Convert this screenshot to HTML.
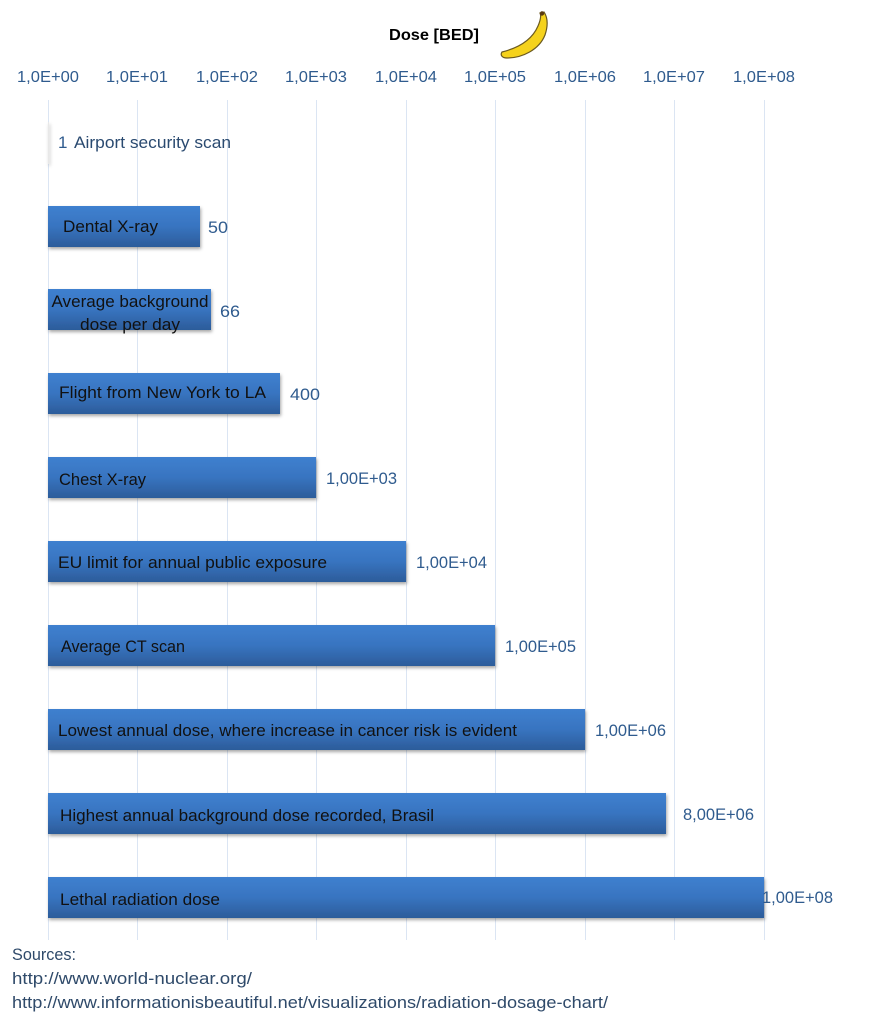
<!DOCTYPE html>
<html><head><meta charset="utf-8"><style>
html,body{margin:0;padding:0;background:#fff}
svg{display:block}
text{font-family:"Liberation Sans",sans-serif}
</style></head><body>
<svg width="886" height="1024" viewBox="0 0 886 1024" xmlns="http://www.w3.org/2000/svg">
<defs>
<linearGradient id="g" x1="0" y1="0" x2="0" y2="1">
<stop offset="0" stop-color="#3f80cf"/>
<stop offset="0.5" stop-color="#3874c0"/>
<stop offset="1" stop-color="#2c5c9a"/>
</linearGradient>
<filter id="s" x="-5%" y="-20%" width="110%" height="150%"><feDropShadow dx="1" dy="2" stdDeviation="1.5" flood-color="#000" flood-opacity="0.35"/></filter>
</defs>
<text x="434" y="40" text-anchor="middle" font-size="16" font-weight="bold" fill="#000" textLength="90" lengthAdjust="spacingAndGlyphs">Dose [BED]</text>
<g transform="translate(500,12)">
<path d="M2,40 C18,36 32,28 38,14 C41,7 41,3 40,1 L44,0 C48,6 48,14 45,23 C39,38 22,46 7,46 C2,46 0,43 2,40 Z" fill="#f5d21c" stroke="#6b5a20" stroke-width="1.2"/>
<circle cx="42" cy="1.5" r="2.2" fill="#5a3a10"/>
</g>
<g fill="#2f5b8e" font-size="16" text-anchor="middle" lengthAdjust="spacingAndGlyphs">
<text x="48" y="82" textLength="62" lengthAdjust="spacingAndGlyphs">1,0E+00</text>
<text x="137" y="82" textLength="62" lengthAdjust="spacingAndGlyphs">1,0E+01</text>
<text x="227" y="82" textLength="62" lengthAdjust="spacingAndGlyphs">1,0E+02</text>
<text x="316" y="82" textLength="62" lengthAdjust="spacingAndGlyphs">1,0E+03</text>
<text x="406" y="82" textLength="62" lengthAdjust="spacingAndGlyphs">1,0E+04</text>
<text x="495" y="82" textLength="62" lengthAdjust="spacingAndGlyphs">1,0E+05</text>
<text x="585" y="82" textLength="62" lengthAdjust="spacingAndGlyphs">1,0E+06</text>
<text x="674" y="82" textLength="62" lengthAdjust="spacingAndGlyphs">1,0E+07</text>
<text x="764" y="82" textLength="62" lengthAdjust="spacingAndGlyphs">1,0E+08</text>
</g>
<g stroke="#dbe5f3" stroke-width="1">
<line x1="48.5" y1="100" x2="48.5" y2="940"/>
<line x1="137.5" y1="100" x2="137.5" y2="940"/>
<line x1="227.5" y1="100" x2="227.5" y2="940"/>
<line x1="316.5" y1="100" x2="316.5" y2="940"/>
<line x1="406.5" y1="100" x2="406.5" y2="940"/>
<line x1="495.5" y1="100" x2="495.5" y2="940"/>
<line x1="585.5" y1="100" x2="585.5" y2="940"/>
<line x1="674.5" y1="100" x2="674.5" y2="940"/>
<line x1="764.5" y1="100" x2="764.5" y2="940"/>
</g>
<g fill="url(#g)" filter="url(#s)">
<rect x="48" y="122" width="1" height="42" fill="#e8e8e8"/>
<rect x="48" y="206" width="152" height="41"/>
<rect x="48" y="289" width="163" height="41"/>
<rect x="48" y="373" width="232" height="41"/>
<rect x="48" y="457" width="268" height="41"/>
<rect x="48" y="541" width="358" height="41"/>
<rect x="48" y="625" width="447" height="41"/>
<rect x="48" y="709" width="537" height="41"/>
<rect x="48" y="793" width="618" height="41"/>
<rect x="48" y="877" width="716" height="41"/>
</g>
<g fill="#111" font-size="17">
<text x="74" y="148" textLength="157" lengthAdjust="spacingAndGlyphs" fill="#2a4a70">Airport security scan</text>
<text x="63" y="232" textLength="95" lengthAdjust="spacingAndGlyphs">Dental X-ray</text>
<text x="130" y="307" text-anchor="middle" textLength="157" lengthAdjust="spacingAndGlyphs">Average background</text>
<text x="130" y="330" text-anchor="middle" textLength="100" lengthAdjust="spacingAndGlyphs">dose per day</text>
<text x="59" y="398" textLength="207" lengthAdjust="spacingAndGlyphs">Flight from New York to LA</text>
<text x="59" y="485" textLength="87" lengthAdjust="spacingAndGlyphs">Chest X-ray</text>
<text x="58" y="568" textLength="269" lengthAdjust="spacingAndGlyphs">EU limit for annual public exposure</text>
<text x="61" y="652" textLength="124" lengthAdjust="spacingAndGlyphs">Average CT scan</text>
<text x="58" y="736" textLength="459" lengthAdjust="spacingAndGlyphs">Lowest annual dose, where increase in cancer risk is evident</text>
<text x="60" y="821" textLength="374" lengthAdjust="spacingAndGlyphs">Highest annual background dose recorded, Brasil</text>
<text x="60" y="905" textLength="160" lengthAdjust="spacingAndGlyphs">Lethal radiation dose</text>
</g>
<g fill="#2f5b8e" font-size="17">
<text x="58" y="148">1</text>
<text x="208" y="233" textLength="20" lengthAdjust="spacingAndGlyphs">50</text>
<text x="220" y="317" textLength="20" lengthAdjust="spacingAndGlyphs">66</text>
<text x="290" y="400" textLength="30" lengthAdjust="spacingAndGlyphs">400</text>
<text x="326" y="484" textLength="71" lengthAdjust="spacingAndGlyphs">1,00E+03</text>
<text x="416" y="568" textLength="71" lengthAdjust="spacingAndGlyphs">1,00E+04</text>
<text x="505" y="652" textLength="71" lengthAdjust="spacingAndGlyphs">1,00E+05</text>
<text x="595" y="736" textLength="71" lengthAdjust="spacingAndGlyphs">1,00E+06</text>
<text x="683" y="820" textLength="71" lengthAdjust="spacingAndGlyphs">8,00E+06</text>
<text x="762" y="903" textLength="71" lengthAdjust="spacingAndGlyphs">1,00E+08</text>
</g>
<g fill="#2f4a6a" font-size="17">
<text x="12" y="960" textLength="64" lengthAdjust="spacingAndGlyphs">Sources:</text>
<text x="12" y="984" textLength="240" lengthAdjust="spacingAndGlyphs">http://www.world-nuclear.org/</text>
<text x="12" y="1008" textLength="596" lengthAdjust="spacingAndGlyphs">http://www.informationisbeautiful.net/visualizations/radiation-dosage-chart/</text>
</g>
</svg>
</body></html>
